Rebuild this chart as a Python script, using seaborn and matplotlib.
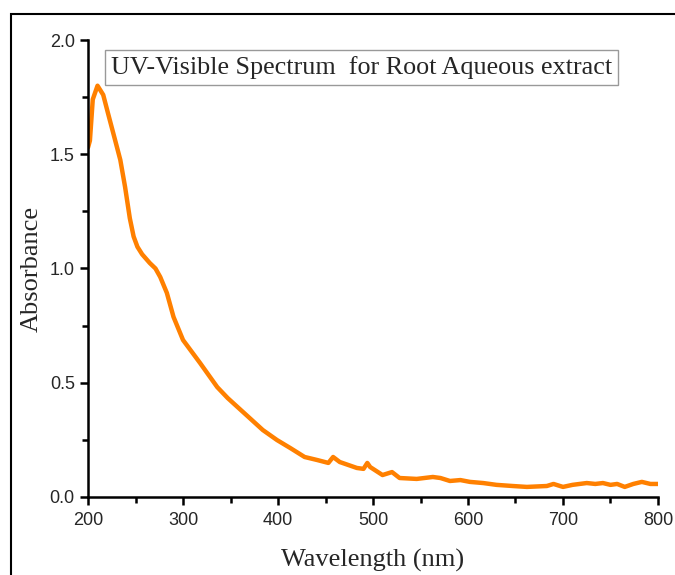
import matplotlib.pyplot as plt
import seaborn as sns
import pandas as pd
from matplotlib.patches import Rectangle
from matplotlib.ticker import MultipleLocator

# Data
wavelength = [200, 202, 205, 210, 216, 221, 228, 234, 239, 244, 248, 252, 257, 265,
              271, 276, 283, 290, 300, 318, 336, 347, 370, 384, 399, 413, 428,
              441, 453, 458, 465, 483, 490, 494, 497, 510, 520, 528, 546, 563,
              571, 581, 592, 602, 616, 630, 647, 662, 683, 690, 700, 710, 725,
              734, 742, 750, 757, 765, 774, 783, 792, 800]
absorbance = [1.53, 1.56, 1.74, 1.80, 1.76, 1.68, 1.57, 1.475, 1.357, 1.22, 1.14,
              1.095, 1.062, 1.024, 1.00, 0.963, 0.893, 0.788, 0.687, 0.586, 0.481,
              0.433, 0.346, 0.293, 0.249, 0.214, 0.175, 0.162, 0.149, 0.175, 0.153,
              0.127, 0.123, 0.149, 0.131, 0.096, 0.109, 0.083, 0.079, 0.0875, 0.083,
              0.070, 0.074, 0.066, 0.061, 0.053, 0.048, 0.044, 0.048, 0.057, 0.044,
              0.053, 0.061, 0.057, 0.061, 0.053, 0.057, 0.044, 0.057, 0.066, 0.057,
              0.057]

df = pd.DataFrame({'Wavelength': wavelength, 'Absorbance': absorbance})

sns.set_style("ticks")
plt.rcParams['font.family'] = ['Liberation Sans', 'DejaVu Sans']

fig = plt.figure(figsize=(6.75, 5.75), dpi=100)
ax = fig.add_axes([0.1304, 0.1357, 0.8444, 0.7947])

sns.lineplot(data=df, x='Wavelength', y='Absorbance', color='#FF8000',
             linewidth=3.2, ax=ax)

ax.set_xlim(200, 800)
ax.set_ylim(0, 2.0)
ax.xaxis.set_major_locator(MultipleLocator(100))
ax.xaxis.set_minor_locator(MultipleLocator(50))
ax.yaxis.set_major_locator(MultipleLocator(0.5))
ax.yaxis.set_minor_locator(MultipleLocator(0.25))
ax.yaxis.set_major_formatter(plt.FormatStrFormatter('%.1f'))

for side in ['top', 'right']:
    ax.spines[side].set_visible(False)
for side in ['left', 'bottom']:
    ax.spines[side].set_linewidth(1.8)
    ax.spines[side].set_color('black')
ax.tick_params(which='major', length=6, width=1.8, labelsize=13, color='black')
ax.tick_params(axis='x', which='major', pad=5)
ax.tick_params(which='minor', length=4, width=1.8, color='black')

ax.set_xlabel('Wavelength (nm)', fontsize=19, family='Liberation Serif', labelpad=14)
ax.set_ylabel('Absorbance', fontsize=19, family='Liberation Serif', labelpad=5)

ax.text(0.04, 0.965, 'UV-Visible Spectrum  for Root Aqueous extract',
        transform=ax.transAxes, ha='left', va='top', fontsize=18.8,
        family='Liberation Serif',
        bbox=dict(boxstyle='square,pad=0.22', facecolor='white',
                  edgecolor='#999999', linewidth=1))

# outer frame of the cropped figure
fig.patches.append(Rectangle((11 / 675, -0.05), 1.0, 1 - 14 / 575 + 0.05,
                             transform=fig.transFigure, fill=False,
                             edgecolor='black', linewidth=1.5))

plt.savefig('out.png', dpi=100)
